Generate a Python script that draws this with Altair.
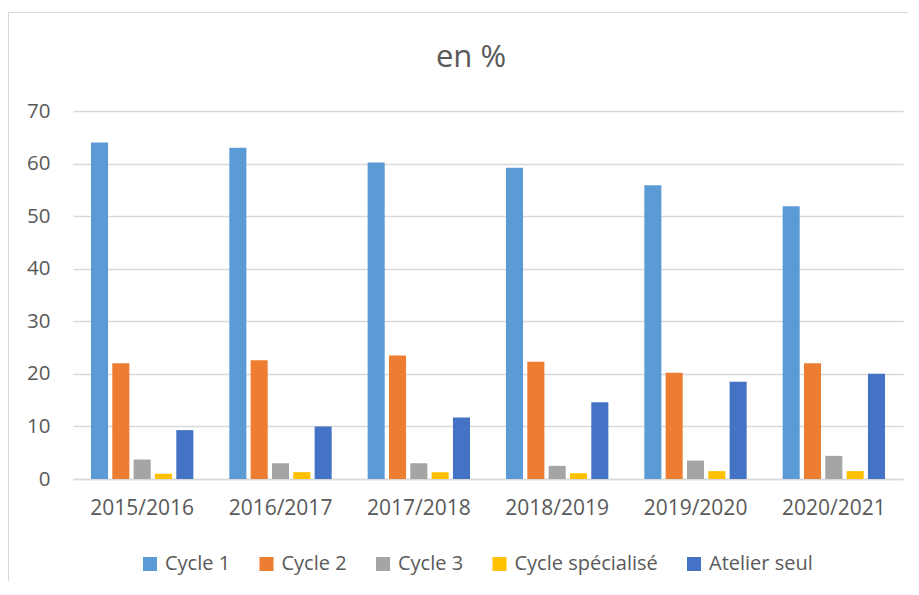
import altair as alt
import pandas as pd

years = ["2015/2016", "2016/2017", "2017/2018", "2018/2019", "2019/2020", "2020/2021"]
series = ["Cycle 1", "Cycle 2", "Cycle 3", "Cycle spécialisé", "Atelier seul"]
colors = ["#5B9BD5", "#ED7D31", "#A5A5A5", "#FFC000", "#4472C4"]

cycle1 = [64.0, 63.0, 60.2, 59.2, 55.9, 51.9]
cycle2 = [22.0, 22.6, 23.5, 22.3, 20.2, 22.0]
cycle3 = [3.7, 3.0, 3.0, 2.5, 3.5, 4.4]
specialise = [1.0, 1.3, 1.3, 1.1, 1.5, 1.5]
atelier = [9.3, 10.0, 11.7, 14.6, 18.5, 20.0]

rows = []
for name, vals in zip(series, [cycle1, cycle2, cycle3, specialise, atelier]):
    for yr, v in zip(years, vals):
        rows.append({"Année": yr, "Série": name, "Valeur": v})
df = pd.DataFrame(rows)

FONT = "Open Sans"
TXT = "#595959"

bars = alt.Chart(df).mark_bar().encode(
    x=alt.X("Année:N", sort=years,
            scale=alt.Scale(paddingInner=0.26, paddingOuter=0.13),
            axis=alt.Axis(title=None, labelAngle=0, ticks=False,
                          domainColor="#D9D9D9", domainWidth=1.5,
                          labelPadding=18, labelFontSize=21,
                          labelColor=TXT, labelFont=FONT)),
    xOffset=alt.XOffset("Série:N", sort=series,
                        scale=alt.Scale(paddingInner=0.2, paddingOuter=0)),
    y=alt.Y("Valeur:Q", scale=alt.Scale(domain=[0, 70], nice=False),
            axis=alt.Axis(title=None, values=list(range(0, 71, 10)),
                          domain=False, ticks=False,
                          gridColor="#D9D9D9", gridWidth=1.3,
                          labelPadding=23, labelFontSize=20.5,
                          labelColor=TXT, labelFont=FONT)),
    color=alt.Color("Série:N", sort=series,
                    scale=alt.Scale(domain=series, range=colors),
                    legend=alt.Legend(title=None, orient="none",
                                      legendX=67, legendY=443,
                                      direction="horizontal",
                                      symbolType="square", symbolSize=196,
                                      symbolStrokeWidth=0,
                                      labelFontSize=20, labelColor=TXT,
                                      labelFont=FONT, columnPadding=25.5,
                                      labelOffset=5)),
)

frame_df = pd.DataFrame({"k": [0]})
top_line = alt.Chart(frame_df).mark_rule(color="#D9D9D9", strokeWidth=1).encode(
    x=alt.value(-64.5), x2=alt.value(900), y=alt.value(-98.5),
)
left_line = alt.Chart(frame_df).mark_rule(color="#D9D9D9", strokeWidth=1).encode(
    x=alt.value(-64.5), y=alt.value(-98.5), y2=alt.value(600),
)

chart = alt.layer(top_line, left_line, bars).properties(
    width=830, height=368,
    title=alt.Title("en %", fontSize=31, font=FONT, fontWeight="normal",
                    color=TXT, dx=-17, dy=86, offset=0, frame="group",
                    baseline="alphabetic"),
    autosize=alt.AutoSizeParams(type="none"),
    padding={"left": 65, "top": 103, "right": 5, "bottom": 102},
).configure_view(stroke=None)

chart.save("out.html", embed_options={"renderer": "svg", "actions": False})
